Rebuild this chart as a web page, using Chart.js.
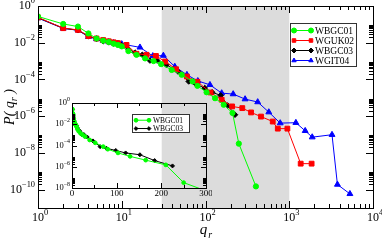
<!DOCTYPE html>
<html>
<head>
<meta charset="utf-8">
<script src="https://cdn.jsdelivr.net/npm/chart.js@4.4.1/dist/chart.umd.min.js"></script>
<style>
  body { margin: 0; background: #fff; }
  #box { position: relative; width: 382px; height: 242px; }
  canvas { position: absolute; }
</style>
</head>
<body>
<div id="box">
  <canvas id="main" width="382" height="242" style="left:0;top:0"></canvas>
  <canvas id="inset" width="172" height="110" style="left:40px;top:97px"></canvas>
</div>
<script>
// Data (q_r, P(q_r))
const names = ['WBGC01', 'WGUK02', 'WBGC03', 'WGIT04'];

const qGreen = [1, 2, 3, 4, 5, 6, 7, 8, 9, 10, 12, 15, 19, 24, 29.5, 39.5, 52, 70, 80, 103, 130, 165, 210, 250, 400];
const pGreen = [0.27, 0.105, 0.076, 0.032, 0.017, 0.013, 0.011, 0.0089, 0.0076, 0.0063, 0.0035, 0.0022, 0.0014, 0.001,
  6.8e-4, 3.3e-4, 1.8e-4, 7.8e-5, 4.5e-5, 2.0e-5, 9.5e-6, 4.2e-6, 1.5e-6, 3.2e-8, 1.5e-10];

const qRed = [1, 2, 3, 4, 5, 6, 7, 8, 9, 11.4, 15, 19.8, 25.6, 33, 44.5, 60, 80, 115, 156, 208, 275, 350, 460, 635, 730, 950, 1370, 1850];
const pRed = [0.24, 0.062, 0.05, 0.023, 0.017, 0.014, 0.012, 0.0105, 0.0095, 0.0076, 0.0025, 0.0022, 0.0019, 9.4e-4,
  3.6e-4, 1.45e-4, 7.5e-5, 1.95e-5, 7.9e-6, 3.4e-6, 2.75e-6, 1.6e-6, 9.5e-7, 5.1e-7, 2.1e-7, 2.1e-7, 2.6e-9, 2.6e-9];

const qBlack = [1, 2, 3, 4, 5, 6, 7, 8, 9, 10, 12, 14.4, 17.6, 21.7, 26.5, 34, 47, 63, 77, 98, 120, 152, 185, 225];
const pBlack = [0.23, 0.062, 0.048, 0.023, 0.016, 0.012, 0.0105, 0.009, 0.008, 0.0072, 0.0045, 0.0029, 0.0022, 0.00107,
  0.00107, 6.3e-4, 2.7e-4, 7.8e-5, 5.5e-5, 3.4e-5, 2.0e-5, 1.35e-5, 3.8e-6, 1.2e-6];

const qBlue = [1, 2, 3, 4, 5, 6, 7, 8, 9, 10, 16.5, 23.5, 31.4, 43, 60, 81, 113, 156, 214, 297, 420, 570, 780, 1200, 1550, 1880, 3240, 3760, 5300];
const pBlue = [0.22, 0.06, 0.048, 0.021, 0.016, 0.013, 0.011, 0.0098, 0.009, 0.0085, 0.0056, 0.0019, 0.002, 5.0e-4,
  1.8e-4, 8.3e-5, 5.1e-5, 1.8e-5, 1.6e-5, 8.5e-6, 5.9e-6, 1.66e-6, 4.2e-7, 4.4e-7, 1.6e-7, 7.2e-8, 9.8e-8, 1.9e-10, 5.9e-11];

// axes
const xExps = [0, 1, 2, 3, 4];            // main x: 10^0 .. 10^4
const yLabelExps = [0, -2, -4, -6, -8, -10]; // main y labels
const yMin = 1e-11, yMax = 1;
const shadeRange = [30, 1000];
const insetXTicks = [0, 100, 200, 300];
const insetXMinor = [50, 150, 250];
const insetYLabelExps = [0, -2, -4, -6, -8];

const SERIF = '"Liberation Serif", "DejaVu Serif", serif';

function pts(q, p) {
  return q.map((v, i) => ({ x: v, y: p[i] }));
}

function ds(label, q, p, color, style, r) {
  return {
    label: label,
    data: pts(q, p),
    borderColor: color,
    backgroundColor: color,
    borderWidth: 1,
    pointStyle: style,
    pointRadius: r,
    pointBorderWidth: 1,
    pointBackgroundColor: color,
    pointBorderColor: color,
    tension: 0
  };
}

// majors every `step` decades, minors at k*10^major
function logTicks(exps) {
  const minor = [];
  exps.forEach(e => {
    for (let k = 2; k <= 9; k++) minor.push(k * Math.pow(10, e));
  });
  return { major: exps.map(e => Math.pow(10, e)), minor: minor };
}

function powLabel(ctx, exp, x, y, size, align) {
  const es = size * 0.7;
  const e = exp < 0 ? '\u2212' + (-exp) : String(exp);
  ctx.font = size + 'px ' + SERIF;
  const w1 = ctx.measureText('10').width;
  ctx.font = es + 'px ' + SERIF;
  const w2 = ctx.measureText(e).width;
  const x0 = align === 'center' ? x - w1 / 2 : x - w1 - w2;
  ctx.textAlign = 'left';
  ctx.textBaseline = 'middle';
  ctx.font = size + 'px ' + SERIF;
  ctx.fillText('10', x0, y);
  ctx.font = es + 'px ' + SERIF;
  ctx.fillText(e, x0 + w1, y - size * 0.42);
}

function line(ctx, x1, y1, x2, y2) {
  ctx.beginPath();
  ctx.moveTo(x1, y1);
  ctx.lineTo(x2, y2);
  ctx.stroke();
}

function drawTicks(ctx, a, scale, values, len, axis) {
  values.forEach(v => {
    if (v < scale.min || v > scale.max) return;
    const p = Math.round(scale.getPixelForValue(v)) + 0.5;
    if (axis === 'x') {
      line(ctx, p, a.bottom, p, a.bottom - len);
      line(ctx, p, a.top, p, a.top + len);
    } else {
      line(ctx, a.left, p, a.left + len, p);
      line(ctx, a.right, p, a.right - len, p);
    }
  });
}

function drawFrame(ctx, a) {
  ctx.strokeRect(Math.round(a.left) + 0.5, Math.round(a.top) + 0.5,
    Math.round(a.right - a.left), Math.round(a.bottom - a.top));
}

function drawLegend(chart, box, rowH, lineLen, fontSize, r) {
  const ctx = chart.ctx;
  ctx.save();
  ctx.fillStyle = '#fff';
  ctx.fillRect(box.x, box.y, box.w, box.h);
  ctx.strokeStyle = '#333';
  ctx.lineWidth = 1;
  ctx.strokeRect(box.x + 0.5, box.y + 0.5, box.w, box.h);
  chart.data.datasets.forEach((d, i) => {
    const y = box.y + rowH * 0.75 + i * rowH;
    const x1 = box.x + 4, x2 = x1 + lineLen;
    ctx.strokeStyle = d.borderColor;
    ctx.fillStyle = d.borderColor;
    line(ctx, x1, y, x2, y);
    [x1, x2].forEach(px => Chart.helpers.drawPoint(ctx, { pointStyle: d.pointStyle, radius: r, borderWidth: 1, rotation: 0 }, px, y));
    ctx.fillStyle = '#000';
    ctx.font = fontSize + 'px ' + SERIF;
    ctx.textAlign = 'left';
    ctx.textBaseline = 'middle';
    ctx.fillText(d.label, x2 + 4, y + 0.5);
  });
  ctx.restore();
}

const mainTicksX = logTicks(xExps);
const mainTicksY = logTicks(yLabelExps);

const mainDeco = {
  id: 'mainDeco',
  beforeDatasetsDraw(chart) {
    const { ctx, chartArea: a, scales: { x } } = chart;
    const x0 = x.getPixelForValue(shadeRange[0]);
    const x1 = x.getPixelForValue(shadeRange[1]);
    ctx.save();
    ctx.fillStyle = '#dcdcdc';
    ctx.fillRect(x0, a.top, x1 - x0, a.bottom - a.top);
    ctx.restore();
  },
  afterDraw(chart) {
    const { ctx, chartArea: a, scales: { x, y } } = chart;
    ctx.save();
    ctx.strokeStyle = '#000';
    ctx.fillStyle = '#000';
    ctx.lineWidth = 1;
    drawTicks(ctx, a, x, mainTicksX.major, 7, 'x');
    drawTicks(ctx, a, x, mainTicksX.minor, 4, 'x');
    drawTicks(ctx, a, y, mainTicksY.major, 7, 'y');
    drawTicks(ctx, a, y, mainTicksY.minor, 4, 'y');
    drawFrame(ctx, a);
    xExps.forEach(e => powLabel(ctx, e, x.getPixelForValue(Math.pow(10, e)), a.bottom + 10, 12, 'center'));
    yLabelExps.forEach(e => powLabel(ctx, e, a.left - 3, y.getPixelForValue(Math.pow(10, e)), 12, 'right'));

    // x title q_r
    const cx = (a.left + a.right) / 2;
    ctx.font = 'italic 15px ' + SERIF;
    const wq = ctx.measureText('q').width;
    ctx.textBaseline = 'alphabetic';
    ctx.textAlign = 'left';
    ctx.fillText('q', cx - wq / 2 - 2, 234);
    ctx.font = 'italic 10px ' + SERIF;
    ctx.fillText('r', cx + wq / 2 - 1, 238);

    // y title P( q_r )
    ctx.translate(10, (a.top + a.bottom) / 2);
    ctx.rotate(-Math.PI / 2);
    const parts = [['P( q', 'italic 14px ', 0], ['r', 'italic 10px ', 4], [' )', 'italic 14px ', 0]];
    let tw = 0;
    parts.forEach(p => { ctx.font = p[1] + SERIF; tw += ctx.measureText(p[0]).width; });
    let px = -tw / 2;
    ctx.textBaseline = 'middle';
    parts.forEach(p => {
      ctx.font = p[1] + SERIF;
      ctx.fillText(p[0], px, p[2]);
      px += ctx.measureText(p[0]).width;
    });
    ctx.restore();

    drawLegend(chart, { x: 290, y: 23, w: 66, h: 43 }, 10, 17, 9.5, 2.5);
  }
};

const mainChart = new Chart(document.getElementById('main'), {
  type: 'line',
  data: {
    datasets: [
      ds(names[0], qGreen, pGreen, '#00ff00', 'circle', 2.6),
      ds(names[1], qRed, pRed, '#ff0000', 'rect', 3.4),
      ds(names[2], qBlack, pBlack, '#000000', 'rectRot', 2.8),
      ds(names[3], qBlue, pBlue, '#0000ff', 'triangle', 3.4)
    ]
  },
  options: {
    responsive: false,
    animation: false,
    devicePixelRatio: 1,
    layout: { padding: { top: 6, right: 9, left: 0, bottom: 0 } },
    plugins: { legend: { display: false }, tooltip: { enabled: false } },
    scales: {
      x: {
        type: 'logarithmic', min: 1, max: 10000,
        grid: { display: false }, border: { display: false }, ticks: { display: false },
        afterFit(s) { s.height = 34; }
      },
      y: {
        type: 'logarithmic', min: yMin, max: yMax,
        grid: { display: false }, border: { display: false }, ticks: { display: false },
        afterFit(s) { s.width = 38; }
      }
    }
  },
  plugins: [mainDeco]
});

// inset: same two series on a linear q_r axis
const insetTicksY = logTicks(insetYLabelExps);

const insetDeco = {
  id: 'insetDeco',
  afterDraw(chart) {
    const { ctx, chartArea: a, scales: { x, y } } = chart;
    ctx.save();
    ctx.strokeStyle = '#000';
    ctx.fillStyle = '#000';
    ctx.lineWidth = 1;
    drawTicks(ctx, a, x, insetXTicks, 5, 'x');
    drawTicks(ctx, a, x, insetXMinor, 3, 'x');
    drawTicks(ctx, a, y, insetTicksY.major, 5, 'y');
    drawTicks(ctx, a, y, insetTicksY.minor, 3, 'y');
    drawFrame(ctx, a);
    ctx.font = '9px ' + SERIF;
    ctx.textAlign = 'center';
    ctx.textBaseline = 'middle';
    insetXTicks.forEach(v => ctx.fillText(String(v), x.getPixelForValue(v), a.bottom + 6));
    insetYLabelExps.forEach(e => powLabel(ctx, e, a.left - 2, y.getPixelForValue(Math.pow(10, e)), 8.5, 'right'));
    ctx.restore();
    drawLegend(chart, { x: 92, y: 17, w: 57, h: 18 }, 8.3, 13, 7.5, 1.9);
  }
};

const insetChart = new Chart(document.getElementById('inset'), {
  type: 'line',
  data: {
    datasets: [
      ds(names[0], qGreen, pGreen, '#00ff00', 'circle', 1.9),
      ds(names[2], qBlack, pBlack, '#000000', 'rectRot', 2)
    ]
  },
  options: {
    responsive: false,
    animation: false,
    devicePixelRatio: 1,
    layout: { padding: { top: 6, right: 6, left: 0, bottom: 0 } },
    plugins: { legend: { display: false }, tooltip: { enabled: false } },
    scales: {
      x: {
        type: 'linear', min: 0, max: 300,
        grid: { display: false }, border: { display: false }, ticks: { display: false },
        afterFit(s) { s.height = 19; }
      },
      y: {
        type: 'logarithmic', min: 1e-8, max: 1,
        grid: { display: false }, border: { display: false }, ticks: { display: false },
        afterFit(s) { s.width = 32; }
      }
    }
  },
  plugins: [insetDeco]
});
</script>
</body>
</html>
